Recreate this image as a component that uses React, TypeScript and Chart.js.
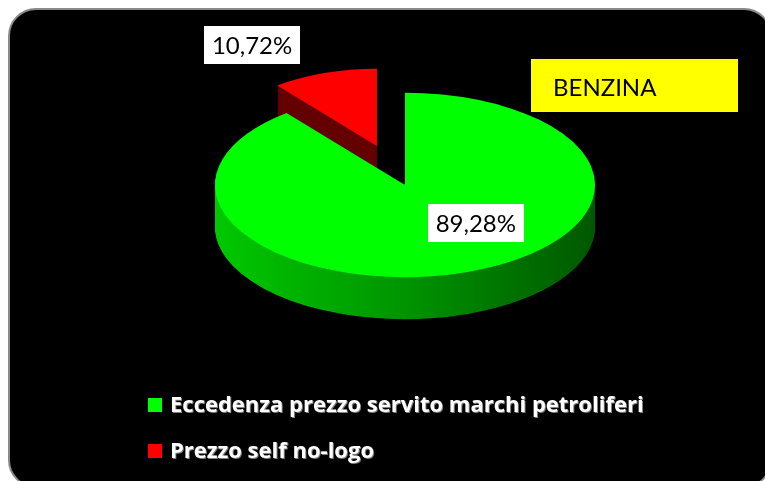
import React, { useEffect, useRef } from "react";
import { Chart, registerables } from "chart.js";
Chart.register(...registerables);

const categories = ["Eccedenza prezzo servito marchi petroliferi", "Prezzo self no-logo"];
const shares = [89.28, 10.72];
const valueLabels = ["89,28%", "10,72%"];
const titleText = "BENZINA";
const topColors = ["#00ff00", "#ff0000"];

const K = 0.485;
const DEPTH = [42, 32];
const EXPLODE = [0, 85];
const RADIUS_SCALE = [1, 0.84];
const LABEL_FRAC = [0.429, 0.277];
const LABEL_DIST = [0.556, 1.72];

function squish(ctx: CanvasRenderingContext2D, cx: number, cy: number) {
  ctx.translate(cx, cy);
  ctx.scale(1, K);
  ctx.translate(-cx, -cy);
}

function drawArcWith(ctx: CanvasRenderingContext2D, arc: any, i: number, color: any) {
  const fake = Object.create(arc);
  fake.outerRadius = arc.outerRadius * RADIUS_SCALE[i];
  fake.options = Object.assign(Object.create(arc.options), {
    backgroundColor: color,
    borderColor: color,
    borderWidth: 0,
    offset: 0,
  });
  const mid = (arc.startAngle + arc.endAngle) / 2;
  ctx.save();
  ctx.translate(Math.cos(mid) * EXPLODE[i], Math.sin(mid) * EXPLODE[i]);
  arc.draw.call(fake, ctx);
  ctx.restore();
}

const pie3d = {
  id: "pie3d",
  beforeDatasetsDraw(chart: any) {
    const ctx: CanvasRenderingContext2D = chart.ctx;
    const arcs = chart.getDatasetMeta(0).data as any[];
    if (!arcs.length) return false;
    const cx = arcs[0].x, cy = arcs[0].y, r = arcs[0].outerRadius;
    const grad = ctx.createLinearGradient(cx - r, 0, cx + r, 0);
    grad.addColorStop(0, "#00c800");
    grad.addColorStop(0.5, "#009400");
    grad.addColorStop(1, "#005800");
    const sides: any[] = [grad, "#640000"];
    const order = [1, 0];
    for (const i of order) {
      for (let d = DEPTH[i]; d >= 1; d--) {
        ctx.save();
        ctx.translate(0, d);
        squish(ctx, cx, cy);
        drawArcWith(ctx, arcs[i], i, sides[i]);
        ctx.restore();
      }
    }
    for (const i of order) {
      ctx.save();
      squish(ctx, cx, cy);
      drawArcWith(ctx, arcs[i], i, topColors[i]);
      ctx.restore();
    }
    return false;
  },
  afterDraw(chart: any) {
    const ctx: CanvasRenderingContext2D = chart.ctx;
    const arcs = chart.getDatasetMeta(0).data as any[];
    if (!arcs.length) return;
    const cx = arcs[0].x, cy = arcs[0].y, r = arcs[0].outerRadius;
    // value labels
    ctx.save();
    ctx.font = "24px Lato";
    ctx.textAlign = "center";
    ctx.textBaseline = "middle";
    arcs.forEach((arc, i) => {
      const a = arc.startAngle + LABEL_FRAC[i] * (arc.endAngle - arc.startAngle);
      const d = LABEL_DIST[i] * r;
      const x = cx + Math.cos(a) * d;
      const y = cy + Math.sin(a) * d * K;
      const w = ctx.measureText(valueLabels[i]).width + 16;
      const h = 38;
      ctx.fillStyle = "#ffffff";
      ctx.fillRect(Math.round(x - w / 2), Math.round(y - h / 2), Math.round(w), h);
      ctx.fillStyle = "#000000";
      ctx.fillText(valueLabels[i], x, y + 1);
    });
    ctx.restore();
    // title box
    ctx.save();
    ctx.fillStyle = "#ffff00";
    ctx.fillRect(531, 59, 207, 53);
    ctx.fillStyle = "#000000";
    ctx.font = "24px Lato";
    ctx.textBaseline = "alphabetic";
    ctx.textAlign = "left";
    ctx.fillText(titleText, 553, 96);
    ctx.restore();
    // legend
    ctx.save();
    ctx.font = "bold 22px 'Open Sans'";
    ctx.textBaseline = "alphabetic";
    ctx.textAlign = "left";
    categories.forEach((c, i) => {
      const base = 412 + i * 46;
      ctx.fillStyle = topColors[i];
      ctx.fillRect(148, base - 14, 14, 14);
      ctx.shadowColor = "rgba(140,140,140,0.9)";
      ctx.shadowOffsetX = 1;
      ctx.shadowOffsetY = 1;
      ctx.fillStyle = "#ffffff";
      ctx.fillText(c, 170, base);
      ctx.shadowColor = "transparent";
    });
    ctx.restore();
  },
};

export default function App() {
  const ref = useRef<HTMLCanvasElement>(null);
  useEffect(() => {
    if (!ref.current) return;
    const chart = new Chart(ref.current, {
      type: "pie",
      data: {
        labels: categories,
        datasets: [
          {
            data: shares,
            backgroundColor: topColors,
            borderWidth: 0,
          },
        ],
      },
      options: {
        animation: false,
        responsive: false,
        events: [],
        radius: 190,
        layout: { padding: { left: 45, right: 0, top: 0, bottom: 111 } },
        plugins: {
          legend: { display: false },
          tooltip: { enabled: false },
          title: { display: false },
        },
      } as any,
      plugins: [pie3d as any],
    });
    return () => chart.destroy();
  }, []);
  return (
    <div style={{ position: "fixed", left: 0, top: 0, width: 765, height: 481, background: "#fff", overflow: "hidden" }}>
      <div
        style={{
          position: "absolute",
          left: 8,
          top: 8,
          width: 764,
          height: 480,
          boxSizing: "border-box",
          border: "2px solid #8a8a8a",
          borderRadius: 28,
          background: "#000",
        }}
      />
      <canvas ref={ref} width={765} height={481} style={{ position: "absolute", left: 0, top: 0 }} />
    </div>
  );
}
